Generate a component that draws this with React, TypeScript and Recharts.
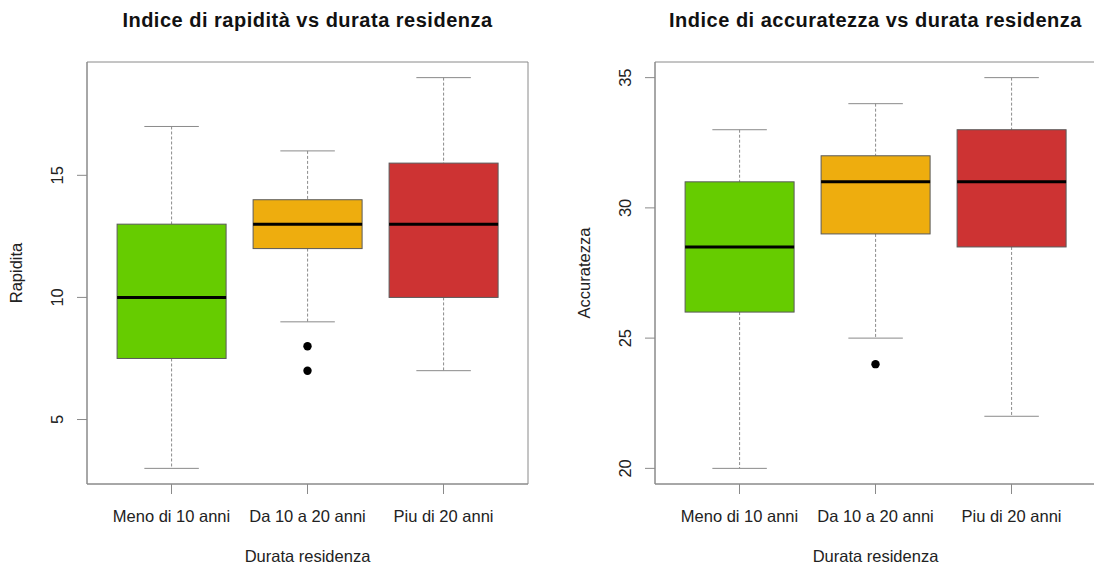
import { ComposedChart, Bar, Scatter, XAxis, YAxis, Label, CartesianGrid } from 'recharts'

const GROUPS = ['Meno di 10 anni', 'Da 10 a 20 anni', 'Piu di 20 anni']
const BOX_COLORS = ['#66CC00', '#EEAD0E', '#CD3333']

// [lower whisker, Q1, median, Q3, upper whisker]
const RAPIDITA_STATS = [
  [3, 7.5, 10, 13, 17],
  [9, 12, 13, 14, 16],
  [7, 10, 13, 15.5, 19],
]
const RAPIDITA_OUTLIERS = [[], [8, 7], []]
const RAPIDITA_TICKS = [5, 10, 15]
const RAPIDITA_DOMAIN = [2.36, 19.64]

const ACCURATEZZA_STATS = [
  [20, 26, 28.5, 31, 33],
  [25, 29, 31, 32, 34],
  [22, 28.5, 31, 33, 35],
]
const ACCURATEZZA_OUTLIERS = [[], [24], []]
const ACCURATEZZA_TICKS = [20, 25, 30, 35]
const ACCURATEZZA_DOMAIN = [19.4, 35.6]

const FONT = '"Liberation Sans", Arial, Helvetica, sans-serif'
const LINE = '#8a8a8a'

const buildRows = (stats: number[][]) =>
  stats.map(([lo, q1, med, q3, hi], i) => ({
    group: GROUPS[i],
    range: [lo, hi],
    lo,
    q1,
    med,
    q3,
    hi,
    color: BOX_COLORS[i],
  }))

const buildOutliers = (outliers: number[][]) =>
  outliers.flatMap((vals, i) => vals.map((value) => ({ group: GROUPS[i], value })))

// The bar spans lower..upper whisker; the rest of the box is placed on the same scale
function BoxShape(props: any) {
  const { x, y, width, height, payload } = props
  const { lo, q1, med, q3, hi, color } = payload
  const perUnit = height / (hi - lo)
  const py = (v: number) => y + (hi - v) * perUnit
  const cx = x + width / 2
  const cap = width / 4
  return (
    <g>
      <line x1={cx} x2={cx} y1={py(hi)} y2={py(q3)} stroke={LINE} strokeDasharray="3 2" />
      <line x1={cx} x2={cx} y1={py(q1)} y2={py(lo)} stroke={LINE} strokeDasharray="3 2" />
      <line x1={cx - cap} x2={cx + cap} y1={py(hi)} y2={py(hi)} stroke={LINE} />
      <line x1={cx - cap} x2={cx + cap} y1={py(lo)} y2={py(lo)} stroke={LINE} />
      <rect x={x} y={py(q3)} width={width} height={py(q1) - py(q3)} fill={color} stroke="#5a5a5a" />
      <line x1={x} x2={x + width} y1={py(med)} y2={py(med)} stroke="#000" strokeWidth={3} />
    </g>
  )
}

const OutlierDot = (p: any) => <circle cx={p.cx} cy={p.cy} r={4.2} fill="#000" />

const RotatedTick = ({ x, y, payload }: any) => (
  <text
    x={x}
    y={y}
    transform={`rotate(-90 ${x} ${y})`}
    textAnchor="middle"
    dominantBaseline="central"
    fontSize={16.5}
    fontFamily={FONT}
    fill="#222"
  >
    {payload.value}
  </text>
)

const yTitle = (text: string) => ({ viewBox }: any) => {
  const cx = viewBox.x + 16
  const cy = viewBox.y + viewBox.height / 2
  return (
    <text
      x={cx}
      y={cy}
      transform={`rotate(-90 ${cx} ${cy})`}
      textAnchor="middle"
      dominantBaseline="central"
      fontSize={16.5}
      fontFamily={FONT}
      fill="#222"
    >
      {text}
    </text>
  )
}

const xTitle = (text: string) => ({ viewBox }: any) => (
  <text
    x={viewBox.x + viewBox.width / 2}
    y={viewBox.y + 78}
    textAnchor="middle"
    fontSize={16.5}
    fontFamily={FONT}
    fill="#222"
  >
    {text}
  </text>
)

// frame around the plot region, like R's box()
const frameX = ({ offset }: any) => (offset ? [offset.left, offset.left + offset.width] : [])
const frameY = ({ offset }: any) => (offset ? [offset.top, offset.top + offset.height] : [])

interface PanelProps {
  title: string
  yLabel: string
  stats: number[][]
  outliers: number[][]
  ticks: number[]
  domain: number[]
  left: number
  width: number
  marginLeft: number
  marginRight: number
}

const PLOT_TOP = 62
const Y_AXIS_W = 87

function BoxPanel({ title, yLabel, stats, outliers, ticks, domain, left, width, marginLeft, marginRight }: PanelProps) {
  const rows = buildRows(stats)
  const points = buildOutliers(outliers)
  const plotLeft = marginLeft + Y_AXIS_W
  const plotWidth = width - plotLeft - marginRight
  return (
    <div style={{ position: 'absolute', left, top: 0, width, height: 568 }}>
      <div
        style={{
          position: 'absolute',
          left: plotLeft,
          top: 9,
          width: plotWidth,
          textAlign: 'center',
          fontFamily: FONT,
          fontWeight: 'bold',
          fontSize: 20,
          letterSpacing: 0.5,
          lineHeight: '22px',
          color: '#111',
          whiteSpace: 'nowrap',
        }}
      >
        {title}
      </div>
      <ComposedChart
        width={width}
        height={568}
        data={rows}
        margin={{ top: PLOT_TOP, right: marginRight, bottom: 0, left: marginLeft }}
        barCategoryGap="10%"
      >
        <CartesianGrid
          stroke={LINE}
          fill="none"
          verticalCoordinatesGenerator={frameX}
          horizontalCoordinatesGenerator={frameY}
        />
        <XAxis
          dataKey="group"
          type="category"
          allowDuplicatedCategory={false}
          padding={{ left: 16.5, right: 16.5 }}
          height={84}
          stroke={LINE}
          tickSize={10}
          tickMargin={16}
          tick={{ fontSize: 16.5, fontFamily: FONT, fill: '#222' }}
        >
          <Label content={xTitle('Durata residenza')} />
        </XAxis>
        <YAxis
          type="number"
          domain={domain}
          ticks={ticks}
          allowDataOverflow
          width={Y_AXIS_W}
          stroke={LINE}
          tickSize={10}
          tickMargin={20}
          tick={<RotatedTick />}
        >
          <Label content={yTitle(yLabel)} />
        </YAxis>
        <Bar dataKey="range" shape={<BoxShape />} isAnimationActive={false} />
        <Scatter data={points} dataKey="value" shape={<OutlierDot />} isAnimationActive={false} />
      </ComposedChart>
    </div>
  )
}

export default function App() {
  return (
    <div
      style={{
        position: 'absolute',
        left: 0,
        top: 0,
        width: 1094,
        height: 568,
        overflow: 'hidden',
        background: '#fff',
      }}
    >
      <BoxPanel
        title="Indice di rapidità vs durata residenza"
        yLabel="Rapidita"
        stats={RAPIDITA_STATS}
        outliers={RAPIDITA_OUTLIERS}
        ticks={RAPIDITA_TICKS}
        domain={RAPIDITA_DOMAIN}
        left={0}
        width={547}
        marginLeft={0}
        marginRight={19}
      />
      <BoxPanel
        title="Indice di accuratezza vs durata residenza"
        yLabel="Accuratezza"
        stats={ACCURATEZZA_STATS}
        outliers={ACCURATEZZA_OUTLIERS}
        ticks={ACCURATEZZA_TICKS}
        domain={ACCURATEZZA_DOMAIN}
        left={547}
        width={549}
        marginLeft={21}
        marginRight={0}
      />
    </div>
  )
}
